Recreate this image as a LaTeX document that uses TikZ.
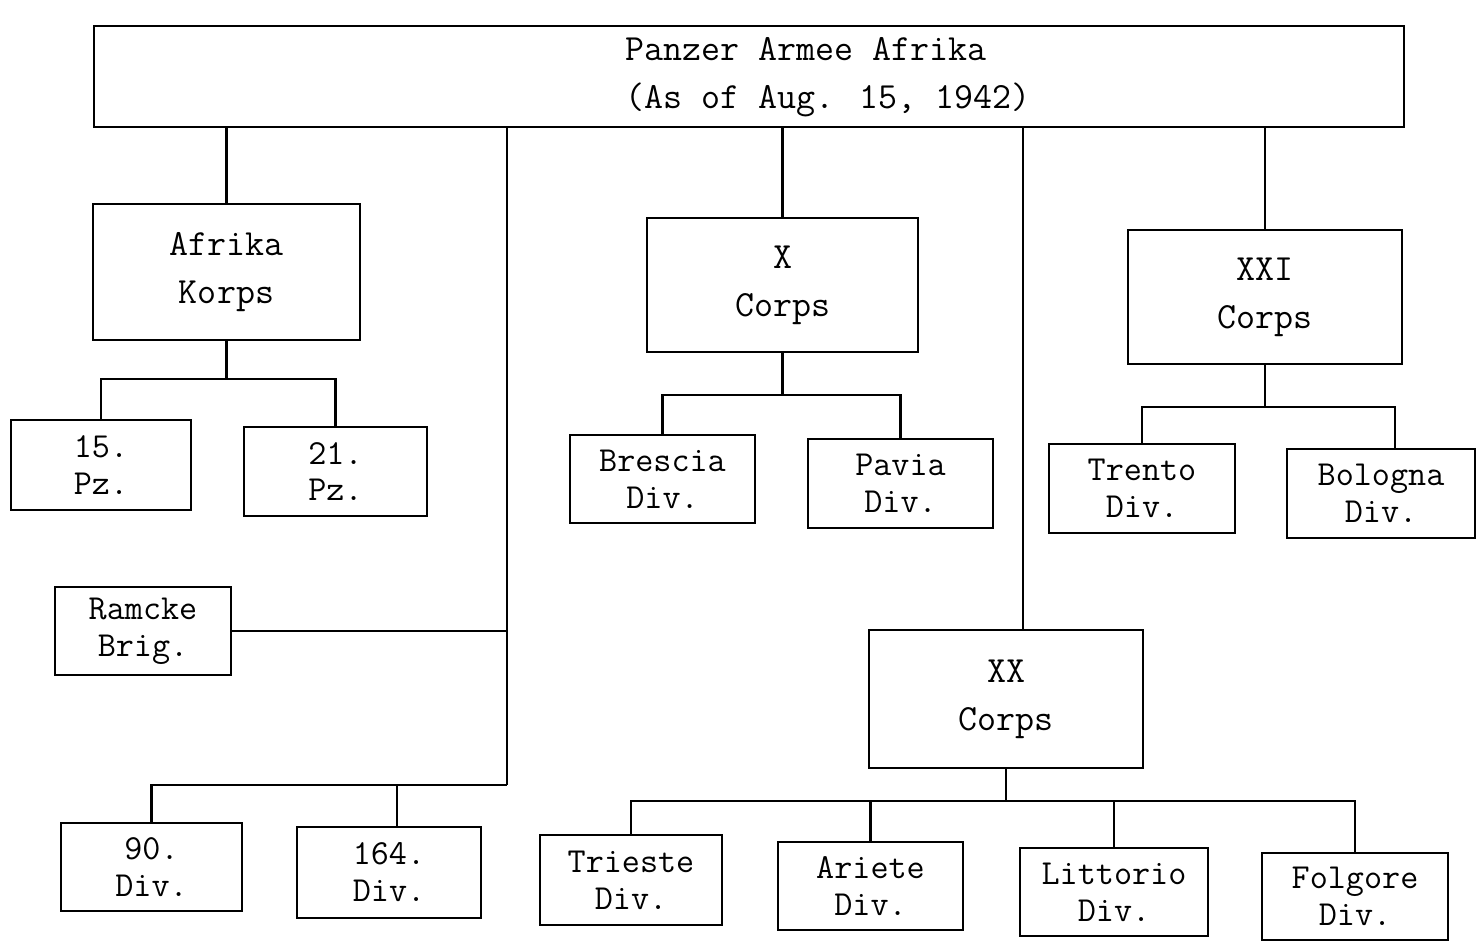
\documentclass[tikz,border=0pt]{standalone}
\usepackage{fontspec}
\begin{document}
\begin{tikzpicture}[x=0.02cm, y=-0.02cm,
  box/.style={draw, line width=1.4pt, inner sep=0pt, align=center,
    font=\ttfamily\fontsize{20}{21}\selectfont},
  corps/.style={box, font=\ttfamily\fontsize{21}{27.3}\selectfont},
  titletext/.style={inner sep=0pt, align=left, anchor=west,
    font=\ttfamily\fontsize{21}{27.3}\selectfont},
  link/.style={line width=1.3pt}]
\fill[white] (0,0) rectangle (1484,944);
\useasboundingbox (0,0) rectangle (1484,944);

% top box
\node[draw, line width=1.4pt, minimum width=26.2cm, minimum height=2.02cm, inner sep=0pt] (pza) at (749,76.5) {};
\node[titletext] (pzat) at (625,77) {Panzer Armee Afrika\\(As of Aug. 15, 1942)};

% corps level
\node[corps, minimum width=5.34cm, minimum height=2.72cm] (ak) at (226.5,272) {Afrika\\Korps};
\node[corps, minimum width=5.42cm, minimum height=2.68cm] (xc) at (782.5,285) {X\\Corps};
\node[corps, minimum width=5.48cm, minimum height=2.68cm] (xxi) at (1265,297) {XXI\\Corps};
\node[corps, minimum width=5.48cm, minimum height=2.76cm] (xx) at (1006,699) {XX\\Corps};

% divisions
\node[box, minimum width=3.6cm, minimum height=1.8cm] (pz15) at (101,465) {15.\\Pz.};
\node[box, minimum width=3.66cm, minimum height=1.78cm] (pz21) at (335.5,471.5) {21.\\Pz.};
\node[box, minimum width=3.7cm, minimum height=1.76cm] (bre) at (662.5,479) {Brescia\\Div.};
\node[box, minimum width=3.7cm, minimum height=1.78cm] (pav) at (900.5,483.5) {Pavia\\Div.};
\node[box, minimum width=3.72cm, minimum height=1.78cm] (tre) at (1142,488.5) {Trento\\Div.};
\node[box, minimum width=3.76cm, minimum height=1.78cm] (bol) at (1381,493.5) {Bologna\\Div.};
\node[box, minimum width=3.52cm, minimum height=1.76cm] (ram) at (143,631) {Ramcke\\Brig.};
\node[box, minimum width=3.62cm, minimum height=1.76cm] (d90) at (151.5,867) {90.\\Div.};
\node[box, minimum width=3.68cm, minimum height=1.82cm] (d164) at (389,872.5) {164.\\Div.};
\node[box, minimum width=3.64cm, minimum height=1.8cm] (tri) at (631,880) {Trieste\\Div.};
\node[box, minimum width=3.7cm, minimum height=1.76cm] (ari) at (870.5,886) {Ariete\\Div.};
\node[box, minimum width=3.76cm, minimum height=1.76cm] (lit) at (1114,892) {Littorio\\Div.};
\node[box, minimum width=3.72cm, minimum height=1.74cm] (fol) at (1355,896.5) {Folgore\\Div.};

% connectors from the army box
\draw[link] (ak.north) -- (ak.north |- pza.south);
\draw[link] (xc.north) -- (xc.north |- pza.south);
\draw[link] (xxi.north) -- (xxi.north |- pza.south);
\coordinate (xxt) at ([xshift=0.34cm]xx.north);
\draw[link] (xxt) -- (xxt |- pza.south);

% trunk to Ramcke, 90. and 164.
\coordinate (tb) at (507,785);
\draw[link] (tb) -- (tb |- pza.south);
\draw[link] (ram.east) -- (ram.east -| tb);
\draw[link] (d90.north) |- (tb);
\coordinate (d164t) at ([xshift=0.16cm]d164.north);
\draw[link] (d164t) -- (d164t |- tb);

% Afrika Korps
\path (ak.south) ++(0,38) coordinate (akb);
\draw[link] (ak.south) -- (akb);
\draw[link] (pz15.north) |- (akb) -| (pz21.north);

% X Corps
\path (xc.south) ++(0,42) coordinate (xcb);
\draw[link] (xc.south) -- (xcb);
\draw[link] (bre.north) |- (xcb) -| (pav.north);

% XXI Corps
\path (xxi.south) ++(0,42) coordinate (xxib);
\draw[link] (xxi.south) -- (xxib);
\draw[link] (tre.north) |- (xxib) -| ([xshift=0.28cm]bol.north);

% XX Corps
\path (xx.south) ++(0,32) coordinate (xxb);
\draw[link] (xx.south) -- (xxb);
\draw[link] (tri.north) |- (xxb) -| (fol.north);
\draw[link] (ari.north) -- (ari.north |- xxb);
\draw[link] (lit.north) -- (lit.north |- xxb);
\end{tikzpicture}
\end{document}
